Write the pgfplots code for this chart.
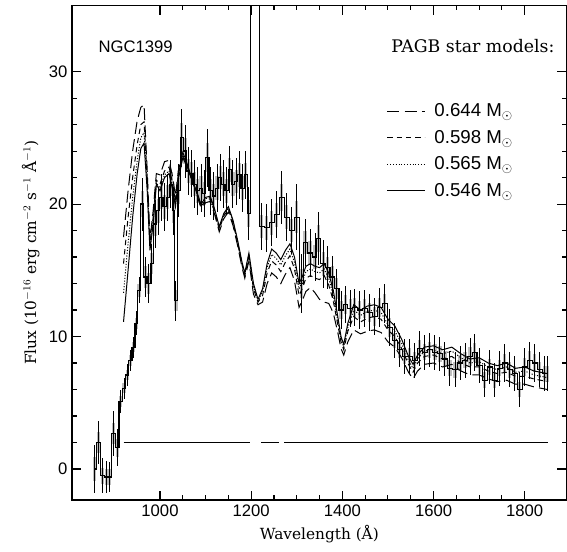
\documentclass[border=0pt]{standalone}
\usepackage{fontspec}
\setmainfont{DejaVu Serif}
\setsansfont{Liberation Sans}
\usepackage{pgfplots}
\usepackage{pgfplotstable}
\pgfplotsset{compat=1.18}

% observed spectrum: wavelength, flux, error, half-error (box)
\pgfplotstableread{
lam flux err box
857 0.0 1.8 0.9
866 2.0 1.6 0.8
874 -0.5 1.3 0.6
882 -0.6 1.2 0.6
890 -0.6 1.1 0.6
898 2.7 1.7 0.8
906 1.6 1.4 0.7
914 5.1 0.9 0.4
921 6.1 0.8 0.4
928 7.1 0.8 0.4
935 8.2 0.8 0.4
942 9.2 0.8 0.4
948 11.0 0.9 0.4
954 13.5 1.0 0.5
961 20.0 2.0 1.0
968 14.5 1.5 0.8
975 14.0 1.5 0.8
982 15.5 1.5 0.8
989 18.5 1.8 0.9
996 19.5 1.8 0.9
1003 20.5 1.8 0.9
1010 19.8 1.8 0.9
1017 20.5 1.8 0.9
1024 21.5 1.8 0.9
1030 19.5 1.8 0.9
1035 12.7 1.5 0.8
1041 21.0 2.0 1.0
1048 25.0 2.2 1.1
1055 24.0 2.0 1.0
1062 22.5 1.8 0.9
1069 22.3 1.8 0.9
1076 21.5 1.8 0.9
1083 21.0 1.8 0.9
1090 21.2 1.8 0.9
1097 20.8 1.8 0.9
1104 23.5 2.2 1.1
1111 21.0 1.8 0.9
1118 20.6 1.8 0.9
1125 21.2 1.8 0.9
1132 22.0 1.8 0.9
1139 21.5 1.8 0.9
1146 21.0 1.8 0.9
1153 22.6 1.8 0.9
1160 21.5 1.8 0.9
1167 21.7 1.8 0.9
1174 22.2 1.8 0.9
1181 21.2 1.8 0.9
1188 22.2 1.8 0.9
1195 19.3 2.0 1.0
1203 45 0 0
1212 45 0 0
1223 18.3 1.8 0.9
1234 18.2 1.8 0.9
1245 18.6 1.8 0.9
1256 19.2 1.8 0.9
1267 20.5 2.0 1.0
1278 19.0 1.8 0.9
1289 18.0 1.8 0.9
1300 19.0 2.5 1.2
1311 14.0 2.2 1.1
1318 17.1 1.8 0.9
1329 16.3 1.8 0.9
1340 16.0 1.8 0.9
1347 17.4 2.0 1.0
1358 15.5 1.8 0.9
1368 15.2 1.6 0.8
1378 14.5 1.6 0.8
1388 13.6 1.5 0.8
1397 12.0 1.4 0.7
1407 12.4 1.4 0.7
1417 12.1 1.4 0.7
1427 12.2 1.4 0.7
1438 12.0 1.4 0.7
1449 12.1 1.4 0.7
1460 11.8 1.4 0.7
1471 11.5 1.4 0.7
1482 12.2 1.5 0.7
1493 12.5 1.5 0.7
1504 10.7 1.4 0.7
1515 9.7 1.3 0.6
1526 9.0 1.3 0.6
1537 8.5 1.3 0.6
1548 8.5 1.3 0.6
1559 8.2 1.3 0.6
1570 9.1 1.3 0.6
1581 8.8 1.3 0.6
1592 9.0 1.3 0.6
1603 8.8 1.3 0.6
1614 8.7 1.3 0.6
1625 8.3 1.3 0.6
1636 7.6 1.3 0.6
1647 7.5 1.3 0.6
1658 8.0 1.3 0.6
1669 8.2 1.3 0.6
1680 8.5 1.4 0.7
1690 8.8 1.4 0.7
1701 7.8 1.3 0.6
1712 6.7 1.3 0.6
1723 7.7 1.3 0.6
1734 6.7 1.3 0.6
1745 7.6 1.3 0.6
1756 8.0 1.4 0.7
1767 7.5 1.3 0.6
1778 7.2 1.3 0.6
1789 6.0 1.3 0.6
1800 7.7 1.4 0.7
1811 8.2 1.4 0.7
1822 8.0 1.4 0.7
1833 7.5 1.3 0.6
1844 7.2 1.3 0.6
1850 7.2 1.3 0.6
}\obs

% PAGB model spectra: 0.546, 0.565, 0.598, 0.644 Msun
\pgfplotstableread{
lam s d ds ld
920 11.1 13.3 15.5 17.5
930 15.0 17.0 19.0 21.0
940 19.0 20.5 22.0 24.0
950 22.3 23.3 24.5 26.3
958 24.2 25.0 26.0 27.3
965 24.6 25.4 26.2 27.5
972 21.0 21.5 22.0 22.5
978 16.5 16.8 17.0 17.3
985 18.5 18.7 19.0 19.5
992 21.5 21.6 21.8 22.3
1000 21.0 21.2 21.5 22.2
1010 22.0 22.2 22.5 23.2
1020 22.3 22.5 22.8 23.3
1028 21.0 21.2 21.5 22.0
1034 19.8 20.0 20.2 20.6
1040 21.8 22.0 22.2 22.5
1050 23.5 23.6 23.7 23.9
1060 22.8 22.8 22.9 23.0
1070 21.8 21.8 21.8 21.9
1080 21.0 20.9 20.9 20.8
1090 20.0 19.9 19.8 19.7
1100 20.5 20.4 20.3 20.1
1110 20.6 20.5 20.4 20.2
1120 19.6 19.5 19.4 19.2
1130 18.3 18.2 18.1 17.9
1140 19.3 19.2 19.1 18.9
1150 19.8 19.7 19.6 19.4
1160 18.8 18.7 18.6 18.4
1170 17.3 17.2 17.1 16.9
1180 15.6 15.5 15.4 15.2
1186 14.8 14.7 14.6 14.4
1195 16.3 16.2 16.0 15.7
1205 14.0 13.8 13.6 13.2
1215 12.8 12.7 12.6 12.4
1225 13.6 13.4 13.1 12.6
1235 15.5 15.2 14.8 14.0
1245 16.6 16.2 15.7 14.8
1255 16.3 15.9 15.4 14.5
1265 15.8 15.4 14.9 14.0
1275 16.5 16.1 15.6 14.7
1285 17.0 16.6 16.1 15.2
1295 16.0 15.6 15.1 14.2
1305 14.0 13.6 13.1 12.2
1312 14.5 14.1 13.6 12.7
1320 15.3 14.9 14.4 13.4
1330 15.5 15.1 14.6 13.7
1340 15.3 14.9 14.4 13.3
1350 15.2 14.8 14.3 12.8
1360 15.5 15.1 14.6 12.6
1370 14.8 14.4 13.9 12.5
1380 13.5 13.1 12.7 11.8
1390 11.5 11.2 10.9 10.3
1397 10.0 9.8 9.6 9.1
1403 9.4 9.2 9.0 8.6
1412 11.0 10.7 10.4 9.6
1425 12.4 12.0 11.5 10.5
1440 12.0 11.6 11.1 10.2
1455 12.3 11.9 11.4 10.4
1470 12.4 12.0 11.5 10.5
1485 12.2 11.8 11.3 10.3
1500 11.3 10.9 10.5 9.6
1515 10.8 10.4 10.0 9.2
1530 9.8 9.5 9.1 8.4
1545 8.5 8.2 7.9 7.3
1555 7.9 7.6 7.3 6.8
1565 8.6 8.3 8.0 7.4
1580 9.2 8.9 8.5 7.9
1600 9.3 9.0 8.6 8.0
1620 9.0 8.7 8.3 7.7
1640 9.2 8.9 8.5 7.9
1660 8.7 8.4 8.0 7.4
1680 8.3 8.0 7.7 7.1
1700 8.4 8.1 7.7 7.1
1720 8.0 7.7 7.4 6.8
1740 7.8 7.5 7.2 6.6
1760 8.0 7.7 7.3 6.7
1780 7.6 7.3 7.0 6.4
1800 7.7 7.4 7.0 6.4
1820 7.4 7.1 6.8 6.2
1850 7.2 6.9 6.6 6.0
}\models

\begin{document}
\begin{tikzpicture}
\useasboundingbox (-54pt,-39pt) rectangle (371.25pt,375pt);
\begin{axis}[
    scale only axis,
    width=371pt, height=371pt,
    xmin=807, xmax=1892,
    ymin=-2.34, ymax=35,
    xtick={1000,1200,1400,1600,1800},
    ytick={0,10,20,30},
    minor x tick num=3,
    minor y tick num=4,
    tick align=inside,
    major tick length=7pt,
    minor tick length=3.5pt,
    every tick/.style={black, line width=0.8pt},
    axis line style={line width=0.9pt},
    /pgf/number format/1000 sep={},
    /pgf/number format/assume math mode=true,
    tick label style={font=\sffamily\fontsize{12.5}{14}\selectfont},
    xlabel={Wavelength (Å)},
    ylabel={Flux (10$^{-16}$ erg cm$^{-2}$ s$^{-1}$ Å$^{-1}$)},
    label style={font=\fontsize{11.5}{13}\selectfont},
    legend style={at={(axis cs:1497,27.8)}, anchor=north west,
        draw=none, fill=none, inner sep=0pt, row sep=4.6pt,
        font=\sffamily\fontsize{14}{16}\selectfont,
        cells={anchor=west},
        /tikz/every odd column/.append style={column sep=5pt}},
    legend image code/.code={\draw[#1, line width=0.7pt] (0pt,0pt) -- (28pt,0pt);},
]

% zero / background level
\addplot[black, line width=0.8pt, forget plot, unbounded coords=jump] coordinates {
    (920,2) (1197,2) (1210,nan) (1222,2) (1262,2) (1267,nan) (1272,2) (1850,2)
};

% observed spectrum: boxes, error bars and histogram
\addplot[forget plot, only marks, mark=-, mark size=0pt,
    error bars/.cd, y dir=both, y explicit, error mark=none,
    error bar style={line width=2.4pt, gray!50}]
    table[x=lam, y=flux, y error=box] {\obs};
\addplot[forget plot, only marks, mark=-, mark size=0pt,
    error bars/.cd, y dir=both, y explicit, error mark=none,
    error bar style={line width=0.7pt, black}]
    table[x=lam, y=flux, y error=err] {\obs};
\addplot[forget plot, black, line width=0.9pt, const plot mark mid]
    table[x=lam, y=flux] {\obs};

% models
\addplot[black, line width=0.75pt, dash pattern=on 9pt off 4pt]
    table[x=lam, y=ld] {\models};
\addlegendentry{0.644 M$_{\odot}$}
\addplot[black, line width=0.75pt, dash pattern=on 4pt off 3pt]
    table[x=lam, y=ds] {\models};
\addlegendentry{0.598 M$_{\odot}$}
\addplot[black, line width=0.75pt, dash pattern=on 0.8pt off 1.3pt]
    table[x=lam, y=d] {\models};
\addlegendentry{0.565 M$_{\odot}$}
\addplot[black, line width=0.75pt]
    table[x=lam, y=s] {\models};
\addlegendentry{0.546 M$_{\odot}$}

\node[anchor=west, font=\sffamily\fontsize{12.5}{14}\selectfont] at (axis cs:855,31.9) {NGC1399};
\node[anchor=west, font=\fontsize{13}{15}\selectfont] at (axis cs:1497,31.9) {PAGB star models:};
\end{axis}
\end{tikzpicture}
\end{document}
